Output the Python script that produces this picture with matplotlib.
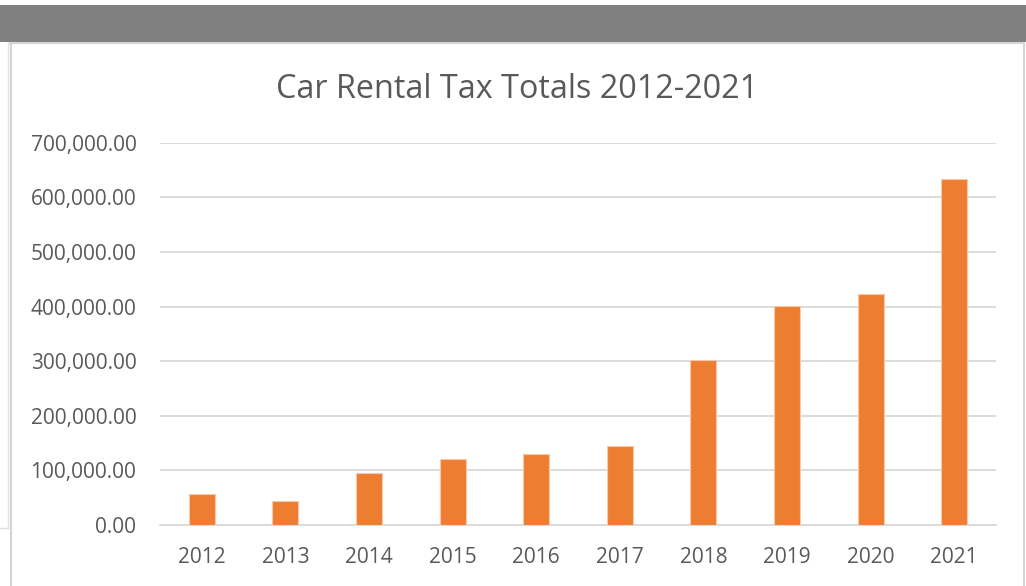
import matplotlib.pyplot as plt
from matplotlib.patches import Rectangle
from matplotlib.lines import Line2D
from matplotlib.ticker import FuncFormatter

# values
years = ['2012', '2013', '2014', '2015', '2016', '2017', '2018', '2019', '2020', '2021']
tax_totals = [56200, 44000, 94700, 120300, 130600, 144700, 301600, 401700, 423700, 633100]
y_ticks = [0, 100000, 200000, 300000, 400000, 500000, 600000, 700000]

plt.rcParams['font.family'] = ['Open Sans', 'DejaVu Sans']

fig = plt.figure(figsize=(10.26, 5.86), dpi=100)
W, H = 1026, 586

def fx(px):
    return px / W

def fy(py):
    return 1 - py / H

# surrounding window decoration
fig.patches.append(Rectangle((0, fy(42)), 1, fy(5) - fy(42), transform=fig.transFigure,
                             facecolor='#808080', edgecolor='none', zorder=0))
fig.lines.append(Line2D([fx(10), fx(1024)], [fy(43), fy(43)], transform=fig.transFigure,
                        color='#d4d4d4', lw=1.5))
fig.lines.append(Line2D([fx(10.5), fx(10.5)], [fy(43), 0], transform=fig.transFigure,
                        color='#d4d4d4', lw=1.5))
fig.lines.append(Line2D([fx(1024), fx(1024)], [fy(43), 0], transform=fig.transFigure,
                        color='#d4d4d4', lw=1.5))
fig.lines.append(Line2D([fx(8), fx(8)], [fy(43), fy(528)], transform=fig.transFigure,
                        color='#e0e0e0', lw=1))
fig.lines.append(Line2D([0, fx(8)], [fy(528), fy(528)], transform=fig.transFigure,
                        color='#e0e0e0', lw=1))

ax = fig.add_axes([fx(160), fy(525), fx(996) - fx(160), fy(142.7) - fy(525)])
ax.bar(years, tax_totals, width=0.31, color='#ED7D31', edgecolor='#f8c9a8', linewidth=0.8, zorder=3)

ax.set_ylim(0, 700000)
ax.set_xlim(-0.5, len(years) - 0.5)
ax.set_yticks(y_ticks)
ax.yaxis.set_major_formatter(FuncFormatter(lambda v, p: f'{v:,.2f}'))
ax.grid(axis='y', color='#d9d9d9', linewidth=1.3, zorder=0)
for s in ['top', 'right', 'left']:
    ax.spines[s].set_visible(False)
ax.spines['bottom'].set_color('#d9d9d9')
ax.spines['bottom'].set_linewidth(1.3)
ax.tick_params(axis='both', length=0, labelsize=15, labelcolor='#595959')
ax.tick_params(axis='y', pad=17)
ax.tick_params(axis='x', pad=16)

fig.text(fx(517), fy(89), 'Car Rental Tax Totals 2012-2021', ha='center', va='center',
         fontsize=23.3, color='#595959')

fig.savefig('out.png', dpi=100)
